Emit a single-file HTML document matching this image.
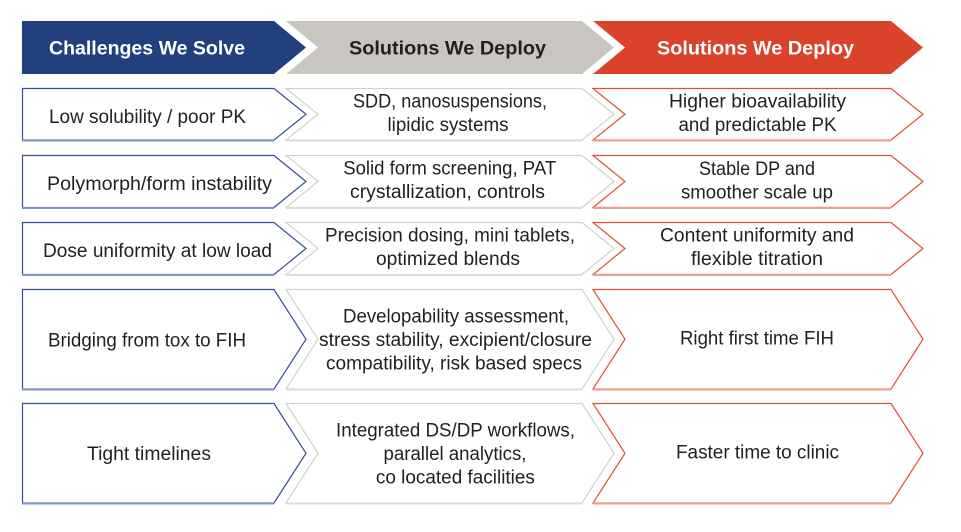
<!DOCTYPE html>
<html>
<head>
<meta charset="utf-8">
<style>
  html, body { margin: 0; padding: 0; background: #ffffff; }
  body { width: 961px; height: 532px; overflow: hidden; }
  svg { display: block; }
  text { font-family: "Liberation Sans", sans-serif; }
  .h { font-size: 19.5px; font-weight: bold; text-anchor: middle; }
  .t { font-size: 19px; fill: #231f20; text-anchor: middle; }
</style>
</head>
<body>
<svg width="961" height="532" viewBox="0 0 961 532" xmlns="http://www.w3.org/2000/svg">
  <!-- Header -->
  <polygon points="22,21 274,21 306,47.5 274,74 22,74" fill="#22407e"/>
  <polygon points="286,21 582,21 614,47.5 582,74 286,74 318,47.5" fill="#c9c6c1"/>
  <polygon points="593,21 891,21 923,47.5 891,74 593,74 625,47.5" fill="#da4229"/>
  <text class="h" x="147" y="54.5" fill="#ffffff" textLength="196" lengthAdjust="spacingAndGlyphs">Challenges We Solve</text>
  <text class="h" x="447.5" y="54.5" fill="#231f20" textLength="197" lengthAdjust="spacingAndGlyphs">Solutions We Deploy</text>
  <text class="h" x="755.5" y="54.5" fill="#ffffff" textLength="197" lengthAdjust="spacingAndGlyphs">Solutions We Deploy</text>

  <!-- Row outlines -->
  <g fill="#ffffff" stroke-width="1.2" stroke-linejoin="miter">
    <!-- Row 1: 88.5 - 140 -->
    <polygon points="22.5,88.5 274,88.5 306,114.25 274,140 22.5,140" stroke="#34508f"/>
    <polygon points="286,88.5 582,88.5 614,114.25 582,140 286,140 318,114.25" stroke="#d3d1cd"/>
    <polygon points="593,88.5 891,88.5 923,114.25 891,140 593,140 625,114.25" stroke="#e04e36"/>
    <!-- Row 2: 155.5 - 207.5 -->
    <polygon points="22.5,155.5 274,155.5 306,181.5 274,207.5 22.5,207.5" stroke="#34508f"/>
    <polygon points="286,155.5 582,155.5 614,181.5 582,207.5 286,207.5 318,181.5" stroke="#d3d1cd"/>
    <polygon points="593,155.5 891,155.5 923,181.5 891,207.5 593,207.5 625,181.5" stroke="#e04e36"/>
    <!-- Row 3: 222.5 - 274.5 -->
    <polygon points="22.5,222.5 274,222.5 306,248.5 274,274.5 22.5,274.5" stroke="#34508f"/>
    <polygon points="286,222.5 582,222.5 614,248.5 582,274.5 286,274.5 318,248.5" stroke="#d3d1cd"/>
    <polygon points="593,222.5 891,222.5 923,248.5 891,274.5 593,274.5 625,248.5" stroke="#e04e36"/>
    <!-- Row 4: 289.5 - 389 -->
    <polygon points="22.5,289.5 274,289.5 306,339.25 274,389 22.5,389" stroke="#34508f"/>
    <polygon points="286,289.5 582,289.5 614,339.25 582,389 286,389 318,339.25" stroke="#d3d1cd"/>
    <polygon points="593,289.5 891,289.5 923,339.25 891,389 593,389 625,339.25" stroke="#e04e36"/>
    <!-- Row 5: 403.5 - 503 -->
    <polygon points="22.5,403.5 274,403.5 306,453.25 274,503 22.5,503" stroke="#34508f"/>
    <polygon points="286,403.5 582,403.5 614,453.25 582,503 286,503 318,453.25" stroke="#d3d1cd"/>
    <polygon points="593,403.5 891,403.5 923,453.25 891,503 593,503 625,453.25" stroke="#e04e36"/>
  </g>

  <!-- bottom edge shading -->
  <g stroke-width="2">
    <line x1="22" y1="140.5" x2="274" y2="140.5" stroke="#8193bf"/>
    <line x1="286" y1="140.5" x2="582" y2="140.5" stroke="#dcdcdc"/>
    <line x1="593" y1="140.5" x2="891" y2="140.5" stroke="#ee9c8e"/>
    <line x1="22" y1="208" x2="274" y2="208" stroke="#8193bf"/>
    <line x1="286" y1="208" x2="582" y2="208" stroke="#dcdcdc"/>
    <line x1="593" y1="208" x2="891" y2="208" stroke="#ee9c8e"/>
    <line x1="22" y1="275" x2="274" y2="275" stroke="#8193bf"/>
    <line x1="286" y1="275" x2="582" y2="275" stroke="#dcdcdc"/>
    <line x1="593" y1="275" x2="891" y2="275" stroke="#ee9c8e"/>
    <line x1="22" y1="389.5" x2="274" y2="389.5" stroke="#8193bf"/>
    <line x1="286" y1="389.5" x2="582" y2="389.5" stroke="#dcdcdc"/>
    <line x1="593" y1="389.5" x2="891" y2="389.5" stroke="#ee9c8e"/>
    <line x1="22" y1="503.5" x2="274" y2="503.5" stroke="#8193bf"/>
    <line x1="286" y1="503.5" x2="582" y2="503.5" stroke="#dcdcdc"/>
    <line x1="593" y1="503.5" x2="891" y2="503.5" stroke="#ee9c8e"/>
  </g>

  <!-- Row 1 text -->
  <text class="t" x="147.5" y="123" textLength="197" lengthAdjust="spacingAndGlyphs">Low solubility / poor PK</text>
  <text class="t" x="450" y="107.5" textLength="194" lengthAdjust="spacingAndGlyphs">SDD, nanosuspensions,</text>
  <text class="t" x="448" y="131" textLength="121" lengthAdjust="spacingAndGlyphs">lipidic systems</text>
  <text class="t" x="757.5" y="107.5" textLength="177" lengthAdjust="spacingAndGlyphs">Higher bioavailability</text>
  <text class="t" x="757.5" y="131" textLength="158" lengthAdjust="spacingAndGlyphs">and predictable PK</text>

  <!-- Row 2 text -->
  <text class="t" x="159.5" y="190" textLength="225" lengthAdjust="spacingAndGlyphs">Polymorph/form instability</text>
  <text class="t" x="449.7" y="174.5" textLength="213" lengthAdjust="spacingAndGlyphs">Solid form screening, PAT</text>
  <text class="t" x="447.5" y="198" textLength="195" lengthAdjust="spacingAndGlyphs">crystallization, controls</text>
  <text class="t" x="757" y="175" textLength="116" lengthAdjust="spacingAndGlyphs">Stable DP and</text>
  <text class="t" x="757" y="198.5" textLength="152" lengthAdjust="spacingAndGlyphs">smoother scale up</text>

  <!-- Row 3 text -->
  <text class="t" x="157.5" y="257" textLength="229" lengthAdjust="spacingAndGlyphs">Dose uniformity at low load</text>
  <text class="t" x="450" y="241.5" textLength="250" lengthAdjust="spacingAndGlyphs">Precision dosing, mini tablets,</text>
  <text class="t" x="448" y="265" textLength="144" lengthAdjust="spacingAndGlyphs">optimized blends</text>
  <text class="t" x="757" y="241.5" textLength="194" lengthAdjust="spacingAndGlyphs">Content uniformity and</text>
  <text class="t" x="757" y="265" textLength="132" lengthAdjust="spacingAndGlyphs">flexible titration</text>

  <!-- Row 4 text -->
  <text class="t" x="147" y="346.7" textLength="198" lengthAdjust="spacingAndGlyphs">Bridging from tox to FIH</text>
  <text class="t" x="456" y="322.5" textLength="226" lengthAdjust="spacingAndGlyphs">Developability assessment,</text>
  <text class="t" x="455.5" y="346" textLength="273" lengthAdjust="spacingAndGlyphs">stress stability, excipient/closure</text>
  <text class="t" x="454" y="369.5" textLength="256" lengthAdjust="spacingAndGlyphs">compatibility, risk based specs</text>
  <text class="t" x="757" y="344.5" textLength="154" lengthAdjust="spacingAndGlyphs">Right first time FIH</text>

  <!-- Row 5 text -->
  <text class="t" x="149" y="460" textLength="124" lengthAdjust="spacingAndGlyphs">Tight timelines</text>
  <text class="t" x="455.5" y="436.7" textLength="239" lengthAdjust="spacingAndGlyphs">Integrated DS/DP workflows,</text>
  <text class="t" x="455" y="460" textLength="143" lengthAdjust="spacingAndGlyphs">parallel analytics,</text>
  <text class="t" x="455.4" y="483.3" textLength="159" lengthAdjust="spacingAndGlyphs">co located facilities</text>
  <text class="t" x="757.5" y="458.5" textLength="163" lengthAdjust="spacingAndGlyphs">Faster time to clinic</text>
</svg>
</body>
</html>
